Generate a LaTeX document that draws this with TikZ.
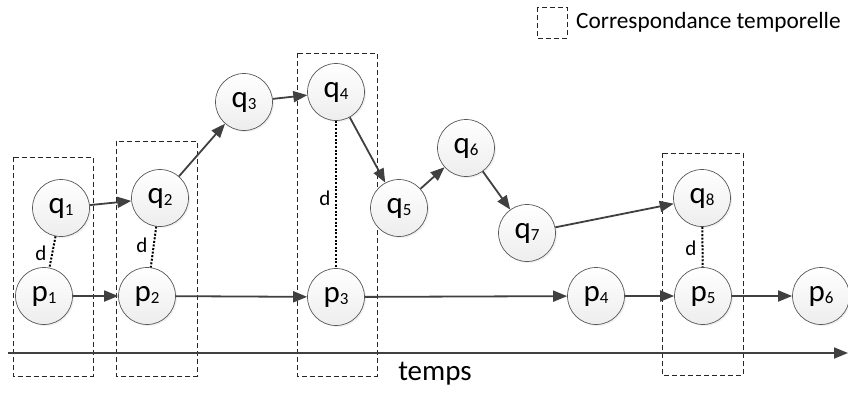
\documentclass[tikz,border=0pt]{standalone}
\usepackage{fontspec}
\setmainfont{Carlito}
\usetikzlibrary{arrows.meta,shadows}
\definecolor{lc}{HTML}{404040}
\newcommand{\nl}[2]{#1{\fontsize{17}{17}\selectfont\raisebox{-2pt}{#2}}}
\tikzset{
  st/.style={circle,draw=gray!70!black,line width=0.7pt,minimum size=57pt,inner sep=0pt,
    top color=white,bottom color=gray!14,
    drop shadow={opacity=0.12,shadow xshift=1.5pt,shadow yshift=-1.5pt},
    font=\fontsize{31}{31}\selectfont},
  link/.style={draw=lc,line width=1.8pt,-{Triangle[length=14pt,width=11pt]}},
  dd/.style={draw=black,line width=2pt,dash pattern=on 2pt off 1.6pt},
  box/.style={draw=gray!30!black,line width=0.9pt,dash pattern=on 5pt off 3pt},
  dl/.style={font=\fontsize{21}{21}\selectfont,inner sep=0pt}
}
\begin{document}
\begin{tikzpicture}[x=1pt,y=-1pt]
\useasboundingbox (0,0) rectangle (848,392);
% dashed boxes
\draw[box] (13,157) rectangle (93,376);
\draw[box] (116,141) rectangle (197,376);
\draw[box] (297,53) rectangle (377,376);
\draw[box] (662,153) rectangle (743,375);
\draw[box] (537,7) rectangle (567,38);
\node[anchor=west,inner sep=0pt,font=\fontsize{23.3}{23.3}\selectfont] (leg) at (576,22) {Correspondance temporelle};
% axis
\coordinate (a0) at (8,353);
\coordinate (a1) at (848,353);
\draw[link] (a0) -- (a1);
\node[font=\fontsize{29}{29}\selectfont,inner sep=0pt] (temps) at (435,374) {temps};
% nodes
\node[st] (p1) at (44,296) {\nl{p}{1}};
\node[st] (p2) at (147,296) {\nl{p}{2}};
\node[st] (p3) at (336,297) {\nl{p}{3}};
\node[st] (p4) at (596,296) {\nl{p}{4}};
\node[st] (p5) at (703,296) {\nl{p}{5}};
\node[st] (p6) at (821,296) {\nl{p}{6}};
\node[st] (q1) at (61,208) {\nl{q}{1}};
\node[st] (q2) at (160,198) {\nl{q}{2}};
\node[st] (q3) at (244,102) {\nl{q}{3}};
\node[st] (q4) at (336,92) {\nl{q}{4}};
\node[st] (q5) at (399,208) {\nl{q}{5}};
\node[st] (q6) at (466,148) {\nl{q}{6}};
\node[st] (q7) at (527,233) {\nl{q}{7}};
\node[st] (q8) at (702,198) {\nl{q}{8}};
% links
\draw[link] (q1) -- (q2);
\draw[link] (q2) -- (q3);
\draw[link] (q3) -- (q4);
\draw[link] (q4) -- (q5);
\draw[link] (q5) -- (q6);
\draw[link] (q6) -- (q7);
\draw[link] (q7) -- (q8);
\draw[link] (p1) -- (p2);
\draw[link] (p2) -- (p3);
\draw[link] (p3) -- (p4);
\draw[link] (p4) -- (p5);
\draw[link] (p5) -- (p6);
% distances
\draw[dd] (q1) -- (p1);
\draw[dd] (q2) -- (p2);
\draw[dd] (q4) -- (p3);
\draw[dd] (q8) -- (p5);
\node[dl] (d1) at (41,253) {d};
\node[dl] (d2) at (142,245) {d};
\node[dl] (d3) at (325,198) {d};
\node[dl] (d4) at (691,248) {d};
\end{tikzpicture}
\end{document}
